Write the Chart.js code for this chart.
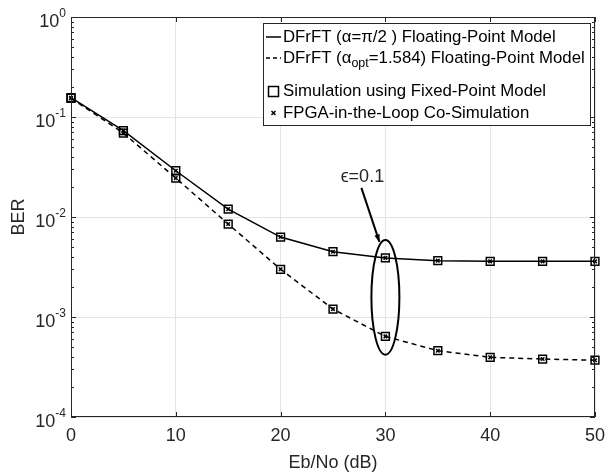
<!DOCTYPE html>
<html>
<head>
<meta charset="utf-8">
<script src="https://cdn.jsdelivr.net/npm/chart.js@4.4.0/dist/chart.umd.min.js"></script>
<style>
  body { margin: 0; background: #fff; }
  #wrap { width: 606px; height: 475px; }
</style>
</head>
<body>
<div id="wrap"><canvas id="berChart"></canvas></div>
<script>
// Eb/No points (dB)
var ebno = [0, 5, 10, 15, 20, 25, 30, 35, 40, 45, 50];
// DFrFT alpha = pi/2, floating point
var berPi2 = [0.156, 0.073, 0.029, 0.012, 0.0063, 0.0045, 0.0039, 0.00366, 0.0036, 0.0036, 0.0036];
// DFrFT alpha_opt = 1.584, floating point
var berOpt = [0.154, 0.069, 0.0245, 0.0085, 0.0030, 0.0012, 0.00064, 0.00046, 0.000395, 0.00038, 0.00037];
var xTicks = [0, 10, 20, 30, 40, 50];
var yDecades = [0, -1, -2, -3, -4];

var FONT = "Arial, 'Liberation Sans', sans-serif";
var AXC = "#262626";

function pts(ys) {
  return ebno.map(function (x, i) { return { x: x, y: ys[i] }; });
}

var isDecade = function (v) {
  var l = Math.log10(v);
  return Math.abs(l - Math.round(l)) < 1e-9;
};

var decor = {
  id: "decor",
  afterDatasetsDraw: function (chart) {
    var ctx = chart.ctx, ca = chart.chartArea;
    var xs = chart.scales.x, ys = chart.scales.y;
    ctx.save();
    ctx.strokeStyle = AXC;
    ctx.lineWidth = 1;
    // box
    ctx.strokeRect(ca.left + 0.5, ca.top + 0.5, ca.right - ca.left - 1, ca.bottom - ca.top - 1);
    ctx.beginPath();
    // x ticks inside, top and bottom
    xTicks.forEach(function (v) {
      var px = Math.round(xs.getPixelForValue(v)) + 0.5;
      ctx.moveTo(px, ca.bottom); ctx.lineTo(px, ca.bottom - 5);
      ctx.moveTo(px, ca.top); ctx.lineTo(px, ca.top + 5);
    });
    // y ticks (major + minor), left and right
    yDecades.forEach(function (d) {
      for (var m = 1; m <= 9; m++) {
        var v = m * Math.pow(10, d);
        if (v > 1.0000001) break;
        var py = Math.round(ys.getPixelForValue(v)) + 0.5;
        var len = m === 1 ? 5 : 3;
        ctx.moveTo(ca.left, py); ctx.lineTo(ca.left + len, py);
        ctx.moveTo(ca.right, py); ctx.lineTo(ca.right - len, py);
      }
    });
    ctx.stroke();

    // y tick labels 10^n
    ctx.fillStyle = AXC;
    ctx.textBaseline = "middle";
    yDecades.forEach(function (d) {
      var py = ys.getPixelForValue(Math.pow(10, d));
      var exp = String(d);
      ctx.font = "12px " + FONT;
      var ew = ctx.measureText(exp).width;
      ctx.textAlign = "right";
      ctx.fillText(exp, ca.left - 5, py - 3);
      ctx.font = "18px " + FONT;
      ctx.fillText("10", ca.left - 5 - ew, py + 5);
    });

    // annotation: ellipse around x=30 points, arrow and label
    var cx = xs.getPixelForValue(30);
    var yt = ys.getPixelForValue(0.0059), yb = ys.getPixelForValue(0.00042);
    ctx.strokeStyle = "#000";
    ctx.lineWidth = 2;
    ctx.beginPath();
    ctx.ellipse(cx, (yt + yb) / 2, 14, (yb - yt) / 2, 0, 0, Math.PI * 2);
    ctx.stroke();
    var ax0 = cx - 24, ay0 = yt - 52, ax1 = cx - 6, ay1 = yt + 2;
    ctx.beginPath();
    ctx.moveTo(ax0, ay0); ctx.lineTo(ax1, ay1);
    ctx.stroke();
    var ang = Math.atan2(ay1 - ay0, ax1 - ax0);
    ctx.fillStyle = "#000";
    ctx.beginPath();
    ctx.moveTo(ax1, ay1);
    ctx.lineTo(ax1 - 8 * Math.cos(ang - 0.35), ay1 - 8 * Math.sin(ang - 0.35));
    ctx.lineTo(ax1 - 8 * Math.cos(ang + 0.35), ay1 - 8 * Math.sin(ang + 0.35));
    ctx.closePath();
    ctx.fill();
    ctx.fillStyle = AXC;
    ctx.textAlign = "center";
    ctx.font = "18px " + FONT;
    ctx.fillText("\u03F5=0.1", ax0 + 1, ay0 - 11);

    // legend
    var lx = 263, ly = 23, lw = 327, lh = 102;
    ctx.fillStyle = "#fff";
    ctx.fillRect(lx, ly, lw, lh);
    ctx.strokeStyle = AXC;
    ctx.lineWidth = 1;
    ctx.strokeRect(lx + 0.5, ly + 0.5, lw, lh);
    ctx.fillStyle = "#000";
    ctx.textAlign = "left";
    ctx.textBaseline = "middle";
    var tx = lx + 20;
    function runs(parts, y) {
      var x = tx;
      parts.forEach(function (p) {
        ctx.font = (p.sub ? "12.5px " : "16.8px ") + FONT;
        ctx.fillText(p.t, x, y + (p.sub ? 6 : 0));
        x += ctx.measureText(p.t).width;
      });
    }
    // row 1
    ctx.strokeStyle = "#000";
    ctx.lineWidth = 1.5;
    ctx.beginPath(); ctx.moveTo(lx + 3, 37); ctx.lineTo(lx + 18, 37); ctx.stroke();
    runs([{ t: "DFrFT (\u03B1=\u03C0/2 ) Floating-Point Model" }], 37);
    // row 2
    ctx.setLineDash([4, 3]);
    ctx.beginPath(); ctx.moveTo(lx + 3, 58); ctx.lineTo(lx + 18, 58); ctx.stroke();
    ctx.setLineDash([]);
    runs([{ t: "DFrFT (\u03B1" }, { t: "opt", sub: true }, { t: "=1.584) Floating-Point Model" }], 58);
    // row 3
    ctx.strokeRect(lx + 5.5, 86.5, 10, 10);
    runs([{ t: "Simulation using Fixed-Point Model" }], 91);
    // row 4
    ctx.lineWidth = 1.5;
    ctx.beginPath();
    ctx.moveTo(lx + 8.5, 111); ctx.lineTo(lx + 12.5, 115);
    ctx.moveTo(lx + 12.5, 111); ctx.lineTo(lx + 8.5, 115);
    ctx.stroke();
    runs([{ t: "FPGA-in-the-Loop Co-Simulation" }], 113);
    ctx.restore();
  }
};

var ctx = document.getElementById("berChart").getContext("2d");
var myChart = new Chart(ctx, {
  type: "scatter",
  data: {
    datasets: [
      {
        label: "DFrFT (\u03B1=\u03C0/2 ) Floating-Point Model",
        data: pts(berPi2), showLine: true, borderColor: "#000", borderWidth: 1.5,
        pointRadius: 0, tension: 0
      },
      {
        label: "DFrFT (\u03B1opt=1.584) Floating-Point Model",
        data: pts(berOpt), showLine: true, borderColor: "#000", borderWidth: 1.5,
        borderDash: [5, 4], pointRadius: 0, tension: 0
      },
      {
        label: "Simulation using Fixed-Point Model",
        data: pts(berPi2).concat(pts(berOpt)), showLine: false,
        pointStyle: "rect", pointRadius: 5.5, borderColor: "#000", borderWidth: 1.5,
        backgroundColor: "rgba(255,255,255,0)"
      },
      {
        label: "FPGA-in-the-Loop Co-Simulation",
        data: pts(berPi2).concat(pts(berOpt)), showLine: false,
        pointStyle: "crossRot", pointRadius: 2.5, borderColor: "#000", borderWidth: 1.5
      }
    ]
  },
  options: {
    responsive: true,
    maintainAspectRatio: false,
    animation: false,
    clip: false,
    layout: { padding: { left: 0, right: 11, top: 17, bottom: 0 } },
    plugins: { legend: { display: false }, tooltip: { enabled: false } },
    scales: {
      x: {
        type: "linear", min: 0, max: 50,
        afterFit: function (s) { s.height = 58; s.paddingLeft = 0; s.paddingRight = 0; },
        ticks: { stepSize: 10, color: AXC, font: { family: FONT, size: 18 }, padding: 8 },
        grid: { color: "#e4e4e4", drawTicks: false },
        border: { display: false },
        title: { display: true, text: "Eb/No (dB)", color: AXC, font: { family: FONT, size: 18 }, padding: { top: 0, bottom: 1 } }
      },
      y: {
        type: "logarithmic", min: 1e-4, max: 1,
        afterFit: function (s) { s.width = 71; s.paddingTop = 0; s.paddingBottom = 0; },
        ticks: { display: false },
        grid: {
          drawTicks: false,
          color: function (c) { return c.tick && isDecade(c.tick.value) ? "#e4e4e4" : "rgba(0,0,0,0)"; }
        },
        border: { display: false },
        title: { display: true, text: "BER", color: AXC, font: { family: FONT, size: 18 }, padding: { top: 8, bottom: 0 } }
      }
    }
  },
  plugins: [decor]
});
</script>
</body>
</html>
